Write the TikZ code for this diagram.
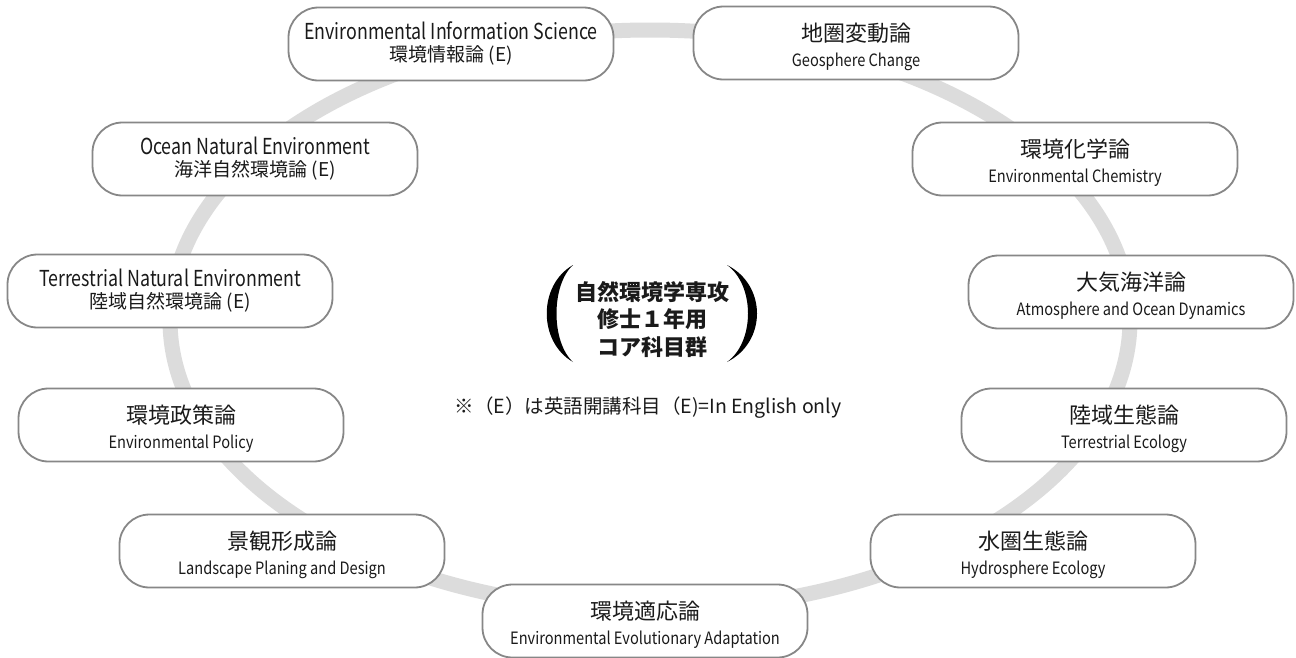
\documentclass[tikz,border=0pt]{standalone}
\usepackage{fontspec}
\usepackage{graphicx}
\setmainfont{Noto Sans CJK JP}
\definecolor{ringgray}{HTML}{DCDCDC}
\definecolor{boxgray}{HTML}{878787}
\definecolor{txtblack}{HTML}{1A1A1A}
\newcommand\EnBig[1]{{\fontsize{22}{22}\selectfont\scalebox{0.81}[1]{#1}}}
\newcommand\JaSmall[1]{{\fontsize{19}{19}\selectfont #1}}
\newcommand\JaBig[1]{{\fontsize{22}{22}\selectfont #1}}
\newcommand\EnSmall[1]{{\fontsize{17}{17}\selectfont\scalebox{0.86}[1]{#1}}}
\tikzset{
  box/.style={draw=boxgray, line width=1.8pt, fill=white, rounded corners=30pt,
    minimum width=325pt, minimum height=73pt, inner sep=0pt},
  ring/.style={draw=ringgray, line width=15pt},
  txt/.style={anchor=base, inner sep=0pt, text=txtblack},
  paren/.style={fill=black, draw=none},
}
\begin{document}
\begin{tikzpicture}[x=1pt,y=-1pt]
\useasboundingbox (0,0) rectangle (1296,657);
\fill[white] (0,0) rectangle (1296,657);
% ring
\draw[ring] (650,320) ellipse [x radius=480, y radius=290];
% boxes
\node[box] (b1) at (451,44) {};
\node[txt] (b1a) at ([yshift=5pt]b1.center) {\EnBig{Environmental Information Science}};
\node[txt] (b1b) at ([yshift=-17pt]b1.center) {\JaSmall{環境情報論 (E)}};

\node[box] (b2) at (856,43) {};
\node[txt] (b2a) at ([yshift=2pt]b2.center) {\JaBig{地圏変動論}};
\node[txt] (b2b) at ([yshift=-23pt]b2.center) {\EnSmall{Geosphere Change}};

\node[box] (b3) at (1075,159) {};
\node[txt] (b3a) at ([yshift=2pt]b3.center) {\JaBig{環境化学論}};
\node[txt] (b3b) at ([yshift=-23pt]b3.center) {\EnSmall{Environmental Chemistry}};

\node[box] (b4) at (1131,292) {};
\node[txt] (b4a) at ([yshift=2pt]b4.center) {\JaBig{大気海洋論}};
\node[txt] (b4b) at ([yshift=-23pt]b4.center) {\EnSmall{Atmosphere and Ocean Dynamics}};

\node[box] (b5) at (1124,425) {};
\node[txt] (b5a) at ([yshift=2pt]b5.center) {\JaBig{陸域生態論}};
\node[txt] (b5b) at ([yshift=-23pt]b5.center) {\EnSmall{Terrestrial Ecology}};

\node[box] (b6) at (1033,551) {};
\node[txt] (b6a) at ([yshift=2pt]b6.center) {\JaBig{水圏生態論}};
\node[txt] (b6b) at ([yshift=-23pt]b6.center) {\EnSmall{Hydrosphere Ecology}};

\node[box] (b7) at (645,621) {};
\node[txt] (b7a) at ([yshift=2pt]b7.center) {\JaBig{環境適応論}};
\node[txt] (b7b) at ([yshift=-23pt]b7.center) {\EnSmall{Environmental Evolutionary Adaptation}};

\node[box] (b8) at (282,551) {};
\node[txt] (b8a) at ([yshift=2pt]b8.center) {\JaBig{景観形成論}};
\node[txt] (b8b) at ([yshift=-23pt]b8.center) {\EnSmall{Landscape Planing and Design}};

\node[box] (b9) at (181,425) {};
\node[txt] (b9a) at ([yshift=2pt]b9.center) {\JaBig{環境政策論}};
\node[txt] (b9b) at ([yshift=-23pt]b9.center) {\EnSmall{Environmental Policy}};

\node[box] (b10) at (170,291) {};
\node[txt] (b10a) at ([yshift=5pt]b10.center) {\EnBig{Terrestrial Natural Environment}};
\node[txt] (b10b) at ([yshift=-17pt]b10.center) {\JaSmall{陸域自然環境論 (E)}};

\node[box] (b11) at (255,159) {};
\node[txt] (b11a) at ([yshift=5pt]b11.center) {\EnBig{Ocean Natural Environment}};
\node[txt] (b11b) at ([yshift=-17pt]b11.center) {\JaSmall{海洋自然環境論 (E)}};

% centre title
\node[txt] (c1) at (652,300) {\fontsize{22}{22}\selectfont\bfseries 自然環境学専攻};
\node[txt] (c2) at (652,327) {\fontsize{22}{22}\selectfont\bfseries 修士１年用};
\node[txt] (c3) at (652,355) {\fontsize{22}{22}\selectfont\bfseries コア科目群};
% parentheses
\fill[paren] (573,265) .. controls (538,285) and (538,342) .. (573,362)
   .. controls (551,342) and (551,285) .. (573,265) -- cycle;
\fill[paren] (727,265) .. controls (767,285) and (767,342) .. (727,362)
   .. controls (755,342) and (755,285) .. (727,265) -- cycle;
% note
\node[txt] (note) at (648,413) {\fontsize{19.5}{19.5}\selectfont ※（E）は英語開講科目（E)=In English only};
\end{tikzpicture}
\end{document}
